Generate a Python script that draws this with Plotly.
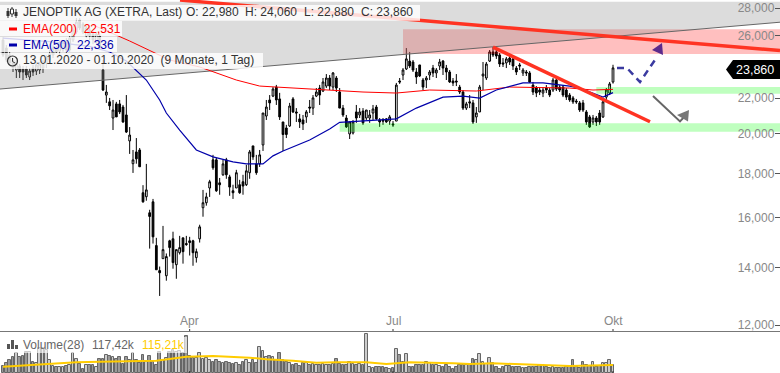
import plotly.graph_objects as go

# OHLC (trading-day index 0..183)
opens = [25700,25160,24700,24370,23725,23980,23790,23790,23285,23850,23660,23725,23850,24180,24370,24700,25160,24960,25030,25570,25030,25705,26260,27120,26830,25980,26400,26120,25570,25980,
23725,22190,21790,20870,21670,21670,21490,21040,19630,18470,19060,19160,17090,16910,16200,16680,14840,13880,14330,13690,15030,15110,14100,14560,15150,14920,15030,15030,14370,15110,
16420,16640,17310,18660,18660,17550,17930,18660,17830,17180,17310,17460,17600,17460,18030,19370,18460,18460,19420,20980,21900,22130,22670,21960,20650,20320,20430,21960,21210,20820,
20760,20930,21490,21430,22130,22610,22430,22730,23225,22670,23225,22370,21430,20870,20000,20050,21210,21040,21260,20870,20870,21150,21490,20760,20760,20820,20700,20540,20700,23040,
23410,23790,24300,24240,23600,24050,23100,23100,23410,23850,23540,23980,24300,23850,23600,23040,23040,22670,22370,21430,21790,21730,20930,21210,23350,23225,24300,24900,24900,24700,
24180,24180,24500,24440,23850,24050,23540,23600,23540,22790,22610,22490,22310,22610,22490,22490,23100,22670,22670,22490,22190,22020,21840,21730,21730,21210,20930,20650,20870,21150,
20930,22070,22310,22980]
highs = [25900,25360,24900,24500,24370,24110,23980,23980,23850,24050,24240,24240,24370,24700,25030,25360,25290,25705,25705,25840,25980,26770,27260,27260,26970,26690,26690,26400,26260,26120,
24370,22800,22020,21900,21790,21900,21610,22190,20370,19160,19780,19260,17440,18460,16330,16810,15150,14030,15640,14530,15070,15400,14680,15230,15150,15230,15190,15070,14720,15690,
17220,17090,17690,18910,18760,17780,18660,18760,17930,17460,18170,17690,17930,18410,19160,19370,18910,19160,21150,21900,22190,22670,22800,22320,20650,20490,21730,22070,21430,21100,
21040,21320,21900,22190,22610,22800,23225,23470,23410,23600,23350,22610,21610,21040,20650,20760,21610,21430,21430,21320,21320,21610,21610,20870,20870,20870,21040,20700,22920,23225,
23850,25160,24900,24370,23850,24050,23225,23350,23725,24050,23850,24440,24370,24050,23725,23225,23470,22800,22490,21790,22190,21900,21490,22800,24240,24240,25030,25230,25030,24830,
24500,24570,24630,24500,23980,24180,23850,23725,23660,22980,22730,22670,22670,22790,22610,23225,23225,22790,22790,22610,22310,22130,21960,21840,21900,21320,21040,21040,20980,21320,
21900,22610,22980,24060]
lows = [24570,24240,23980,23600,23225,23225,23100,23225,23100,23350,23410,23475,23540,23850,24240,24500,24830,24700,24900,24830,24900,25570,26120,26400,26120,25840,25705,25430,25430,25030,
22430,21730,21320,20210,20930,21090,20600,20050,18960,18020,18470,18310,16640,16730,14720,14920,13910,12970,14330,13510,14410,13950,13580,14490,14140,14830,14450,14060,14180,14960,
16030,16510,16900,18170,17130,17000,17880,17740,16950,16810,17310,17040,17000,17400,17740,18660,17930,18310,19110,20760,21320,22070,21610,20760,19110,19780,20380,21150,20650,20320,
20210,20600,21150,21040,22070,21610,22370,22610,22490,22490,22370,21430,20930,20320,19730,19970,20600,20870,20490,20760,20600,20760,20760,20380,20490,20600,20490,20380,20700,22860,
23100,23725,23850,23600,22860,23285,22490,22610,23100,23285,23225,23725,23410,23100,22920,22730,22730,22250,21320,21320,21430,20540,20600,21210,22490,23100,24240,24570,24440,23920,
23920,23850,24050,23725,23410,23725,23350,23350,22920,22190,22070,22190,22070,22310,22070,22370,22430,22370,22070,21900,21790,21670,21670,21210,21210,20490,20320,20490,20430,20490,
20870,21790,22190,22880]
closes = [24700,24370,24180,23850,24240,23600,23600,23410,23660,23600,24050,24110,24240,24500,24770,25160,24900,25360,25570,25030,25840,26400,26970,26550,26260,26550,25980,25705,26120,25160,
22490,22370,21560,21320,20930,21210,20650,20100,19940,18660,18710,18320,16680,17220,16040,15190,13910,13800,14680,14410,14760,14180,14680,14760,14600,14880,14960,14560,14600,15600,
16640,16900,17600,18270,17180,17460,18460,17930,17350,17090,18030,17090,17400,18120,19060,18810,18030,18910,21150,21490,21730,22550,21900,20930,19970,19970,21550,21210,21150,20650,
20540,21210,21430,22020,22370,22190,22980,23225,22730,23540,22610,21430,21040,20380,20650,20650,20870,21210,20600,21320,21040,21380,20820,20650,20700,20650,20930,20490,22790,22980,
23725,24440,23980,23725,23285,23350,22670,23225,23600,23540,23725,24240,23850,23600,22980,22920,22980,22370,21430,21670,21730,20650,21150,22670,23470,24110,24900,24700,24630,24110,
24110,24440,24240,23980,23600,23980,23725,23540,22980,22370,22310,22370,22490,22490,22190,23100,22550,22490,22190,22070,21900,21790,21790,21320,21320,20650,20380,20870,20650,20650,
21790,22490,22860,23860]

# Volume, thousands of shares
volumes = [100,140,187,235,283,235,245,307,307,163,140,355,355,331,187,100,91,82,91,100,
115,283,197,130,53,115,115,110,82,197,197,259,245,235,197,235,130,235,187,293,
187,140,259,163,245,163,115,307,187,211,307,331,307,322,283,533,245,211,211,293,
197,211,187,163,187,163,140,163,150,130,140,115,163,187,140,187,140,370,322,235,
245,235,187,293,187,163,150,120,130,100,140,150,115,130,110,120,130,115,120,130,
197,130,120,110,163,130,120,130,110,562,82,70,82,82,82,75,60,70,341,259,
163,269,91,82,110,115,110,163,150,110,110,100,82,115,82,60,90,115,115,110,
115,197,187,269,163,130,211,140,91,55,82,100,100,80,90,90,65,70,90,90,
80,110,120,90,70,80,65,70,70,90,80,187,80,70,154,110,100,154,90,100,
150,150,187,117.42]
vol_avg_idx = [0,12,22,29,46,55,63,74,79,87,94,100,109,115,122,135,140,147,159,170,183]
vol_avg = [91,130,154,163,178,235,245,221,197,178,149,154,154,130,154,139,130,139,115,101,115.21]

ema200_idx = [27,32,38,50,59,70,77,82,104,108,118,128,142,152,170,177,183]
ema200 = [26760,26230,25640,24370,23920,23100,22730,22670,22430,22370,22310,22490,22430,22670,22610,22490,22531]
ema50_idx = [0,14,26,32,37,41,43,47,49,53,56,58,63,69,73,78,81,84,92,98,101,108,118,124,132,138,143,148,156,162,170,173,180,183]
ema50 = [25840,25590,25270,24900,24300,23470,23100,21900,21150,20210,19570,19160,18810,18560,18460,18460,18860,19110,19680,20270,20630,20700,20820,21430,22070,22130,22010,22490,22920,22920,22730,22610,22070,22336]

tick_idx = [56, 117, 183]
tick_text = ["Apr", "Jul", "Okt"]
price_ticks = [12000, 14000, 16000, 18000, 20000, 22000, 26000, 28000]
price_labels = ["12,000", "14,000", "16,000", "18,000", "20,000", "22,000", "26,000", "28,000"]

# Drawn analysis objects, in chart units
X_MIN, X_MAX = -0.9, 233.1
gray_x = [X_MIN, X_MAX, X_MAX, X_MIN, X_MIN]
gray_y = [22550, 26960, 28480, 28480, 22550]
red_zone_x = [120, X_MAX, X_MAX, 120, 120]
red_zone_y = [24760, 24760, 26460, 26460, 24760]
green_hi_x = [178, X_MAX, X_MAX, 178, 178]
green_hi_y = [22270, 22270, 22670, 22670, 22270]
green_lo_x = [101, X_MAX, X_MAX, 101, 101]
green_lo_y = [20120, 20120, 20580, 20580, 20120]
trend_top_x = [53.1, X_MAX]
trend_top_y = [28600, 24990]
trend_down_x = [147, 194.1]
trend_down_y = [25220, 20660]
plan_x = [184.2, 187.2, 191.1, 196.2]
plan_y = [23850, 23850, 22980, 24570]
plan_head_x = [197.7, 194.7, 198, 197.7]
plan_head_y = [25500, 25030, 24700, 25500]
alt_x = [195, 203.1, 204.9]
alt_y = [22140, 20680, 21040]
alt_head_x = [205.8, 202.2, 205.5, 205.8]
alt_head_y = [21320, 21040, 20680, 21320]

assert len(opens) == len(highs) == len(lows) == len(closes) == len(volumes) == 184

W, H = 780, 373
FONT = "Liberation Sans"
idx = list(range(len(opens)))

fig = go.Figure()
fig.add_trace(go.Candlestick(
    x=idx, open=opens, high=highs, low=lows, close=closes, xaxis="x", yaxis="y",
    increasing=dict(line=dict(color="#000", width=1), fillcolor="#fff"),
    decreasing=dict(line=dict(color="#000", width=1), fillcolor="#000"),
    whiskerwidth=0, showlegend=False))
fig.add_trace(go.Bar(
    x=idx, y=volumes, xaxis="x", yaxis="y2", width=0.75,
    marker=dict(color=["#cccccc" if c >= o else "#999999" for o, c in zip(opens, closes)],
                line=dict(color="#666", width=1)),
    showlegend=False))

def area(x, y, fill, line=None, w=0):
    fig.add_trace(go.Scatter(x=x, y=y, mode="lines", fill="toself", fillcolor=fill,
                             line=dict(color=line or "rgba(0,0,0,0)", width=w),
                             xaxis="x", yaxis="y", showlegend=False, hoverinfo="skip"))

def line(x, y, color, w, dash="solid", axis="y"):
    fig.add_trace(go.Scatter(x=x, y=y, mode="lines", line=dict(color=color, width=w, dash=dash),
                             xaxis="x", yaxis=axis, showlegend=False, hoverinfo="skip"))

area(red_zone_x, red_zone_y, "rgba(255,0,0,0.25)")
area(green_hi_x, green_hi_y, "rgba(0,255,0,0.25)")
area(green_lo_x, green_lo_y, "rgba(0,255,0,0.25)")
area(gray_x, gray_y, "rgba(150,150,150,0.33)")
line(gray_x[:2], gray_y[:2], "#666", 1)
line(ema200_idx, ema200, "#ff0000", 1)
line(ema50_idx, ema50, "#0000aa", 1.2)
line(vol_avg_idx, vol_avg, "#ffcc00", 2, axis="y2")
line(trend_top_x, trend_top_y, "#ff3322", 3.5)
line(trend_down_x, trend_down_y, "#ff3322", 3.5)
line(plan_x, plan_y, "#3a3aa0", 2.5, dash="7px,5px")
area(plan_head_x, plan_head_y, "#5b2a8c")
line(alt_x, alt_y, "#666", 2)
area(alt_head_x, alt_head_y, "#777")

def px(x): return x / W
def py(y): return 1 - y / H

shapes = []
def rect(x0, y0, x1, y1, color):
    shapes.append(dict(type="rect", xref="paper", yref="paper", x0=px(x0), x1=px(x1), y0=py(y0), y1=py(y1),
                       fillcolor=color, line=dict(width=0), layer="above"))
def seg(x0, y0, x1, y1, color, w=1):
    shapes.append(dict(type="line", xref="paper", yref="paper", x0=px(x0), x1=px(x1), y0=py(y0), y1=py(y1),
                       line=dict(color=color, width=w), layer="above"))

VEIL = "rgba(255,255,255,0.82)"
rect(0, 5, 420, 20.7, VEIL)
rect(0, 21, 122, 36, VEIL)
rect(0, 37, 117, 52, VEIL)
rect(0, 53, 263, 69, VEIL)
rect(0, 337, 187, 353, "rgba(255,255,255,0.65)")

# panel divider and month ticks
seg(0, 331.5, 780, 331.5, "#777")
for t in tick_idx:
    for y0, y1 in ((329, 331), (371, 373)):
        shapes.append(dict(type="line", xref="x", yref="paper", x0=t, x1=t, y0=py(y0), y1=py(y1),
                           line=dict(color="#333", width=1), layer="above"))

# candle glyph
seg(8, 8, 8, 18, "#333"); rect(6.5, 11, 9.5, 16, "#333")
seg(12, 7, 12, 17, "#333"); rect(10.5, 9, 13.5, 14, "#fff")
shapes.append(dict(type="rect", xref="paper", yref="paper", x0=px(10.5), x1=px(13.5), y0=py(9), y1=py(14),
                   line=dict(color="#333", width=1), layer="above"))
seg(16, 9, 16, 18, "#333"); rect(14.5, 12, 17.5, 16, "#333")
# line keys
rect(9, 27.5, 17, 30.5, "#ff0000")
rect(9, 43.5, 17, 46.5, "#0000aa")
# clock
shapes.append(dict(type="circle", xref="paper", yref="paper", x0=px(7.5), x1=px(17.5), y0=py(66), y1=py(56),
                   line=dict(color="#333", width=1.2), layer="above"))
seg(12.5, 58, 12.5, 61.5, "#333"); seg(12.5, 61.5, 15, 63, "#333")
# volume glyph
rect(7, 344, 10, 349, "#555"); rect(11, 340, 14, 349, "#555"); rect(15, 345, 18, 349, "#555")
# last price tag
shapes.append(dict(type="path", xref="paper", yref="paper",
                   path=f"M {px(726)} {py(69.5)} L {px(733)} {py(60)} L {px(780)} {py(60)} L {px(780)} {py(79)} L {px(733)} {py(79)} Z",
                   fillcolor="#000", line=dict(width=0), layer="above"))

def label(x, y, text, color="#333", size=12, anchor="left"):
    return dict(text=text, xref="paper", yref="paper", x=px(x), y=py(y), xanchor=anchor, yanchor="middle",
                showarrow=False, font=dict(family=FONT, size=size, color=color), borderpad=0, borderwidth=0)

NB = "\u00a0"
annotations = [
    label(23, 12, "JENOPTIK AG (XETRA, Last)"),
    label(186, 12, "O: 22,980"),
    label(245, 12, "H: 24,060"),
    label(304, 12, "L: 22,880"),
    label(361, 12, "C: 23,860"),
    label(23, 29, f"EMA(200){NB}{NB}22,531", "#ff0000"),
    label(23, 45, f"EMA(50){NB}{NB}22,336", "#0000aa"),
    label(23, 60, f"13.01.2020 - 01.10.2020{NB}{NB}(9 Monate, 1 Tag)"),
    label(23, 345, "Volume(28)", "#666"),
    label(92, 345, "117,42k", "#666"),
    label(142, 345, "115,21k", "#ffcc00"),
    label(755, 69.5, "23,860", "#fff", 12.5, "center"),
]
for t, s in zip(tick_idx, tick_text):
    annotations.append(dict(text=s, xref="x", yref="paper", x=t, y=py(321), xanchor="center", yanchor="middle",
                            showarrow=False, font=dict(family=FONT, size=12, color="#888"), borderpad=0))

VOL_DOM = 42 / H
fig.update_layout(
    width=W, height=H, autosize=False, margin=dict(l=0, r=0, t=0, b=0),
    paper_bgcolor="#fff", plot_bgcolor="#fff", showlegend=False, boxmode="overlay", boxgap=0.25,
    font=dict(family=FONT, size=12, color="#888"), shapes=shapes, annotations=annotations,
    bargap=0,
    xaxis=dict(domain=[0, 1], range=[X_MIN, X_MAX], anchor="y", rangeslider=dict(visible=False),
               showticklabels=False, ticks="", showline=False, showgrid=False, zeroline=False),
    yaxis=dict(domain=[0, 1], type="log", range=[4.0235, 4.4565], side="right", anchor="x",
               tickmode="array", tickvals=price_ticks, ticktext=price_labels, ticklabelposition="inside",
               ticks="inside", ticklen=5, tickcolor="#555", tickfont=dict(family=FONT, size=12, color="#888"),
               showgrid=False, zeroline=False, showline=False),
    yaxis2=dict(domain=[0, VOL_DOM], range=[0, 605], side="right", anchor="x", showticklabels=False,
                ticks="", showgrid=False, zeroline=False, showline=False),
)
fig.write_html("out.html", config={"displayModeBar": False},
               post_script="document.body.style.margin='0';document.documentElement.style.overflow='hidden';")
